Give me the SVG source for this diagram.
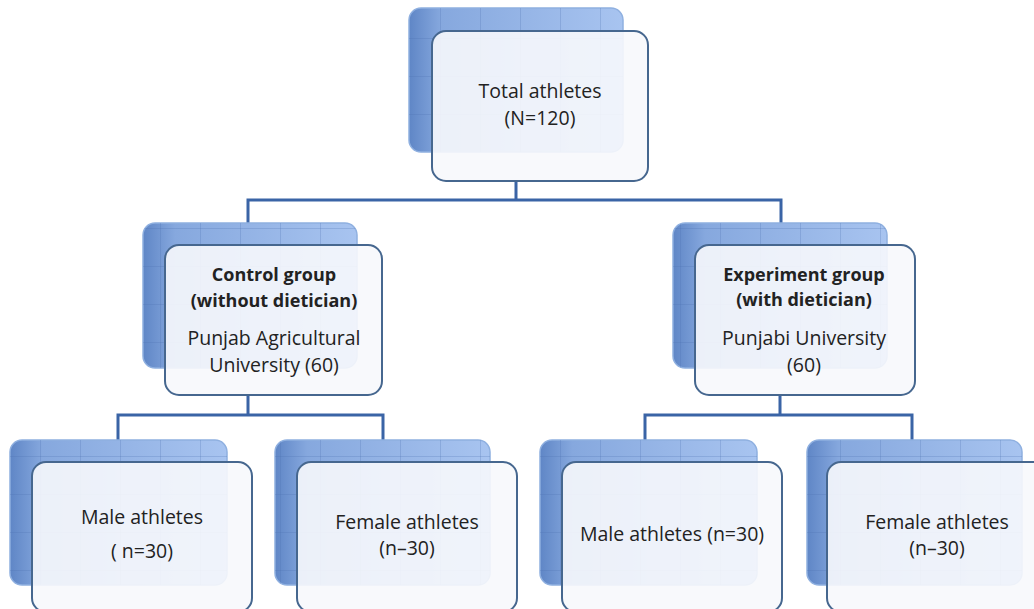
<svg xmlns="http://www.w3.org/2000/svg" width="1034" height="609" viewBox="0 0 1034 609">
<style>
.back{fill:url(#bg);stroke:#8fb0e0;stroke-width:1.5}
.grid{fill:url(#gridp)}
.front{fill:#f7f8fc;fill-opacity:0.9;stroke:#46678f;stroke-width:2}
.conn{fill:none;stroke:#3a64a6;stroke-width:3}
text{font-family:"Open Sans","Liberation Sans",sans-serif;font-size:19.5px;fill:#222;text-anchor:middle}
.b{font-weight:bold;font-size:18px}
</style>
<defs>
<linearGradient id="bg" x1="0" y1="0" x2="1" y2="0">
<stop offset="0" stop-color="#5f86c6"/>
<stop offset="0.15" stop-color="#86a8de"/>
<stop offset="1" stop-color="#a8c4f0"/>
</linearGradient>
<pattern id="gridp" width="40" height="38" patternUnits="userSpaceOnUse">
<path d="M0 0.5H40M0.5 0V38" stroke="#4a6fae" stroke-opacity="0.25" stroke-width="1" fill="none"/>
</pattern>
</defs>
<g id="connectors">
<path class="conn" d="M516 182V200M248 225V200H781V225"/>
<path class="conn" d="M248 395V415M118 440V415H383V440"/>
<path class="conn" d="M780 395V415M645 440V415H912V440"/>
</g>
<g id="total">
<rect class="back" x="409" y="8" width="214" height="144" rx="12"/>
<rect class="grid" x="409" y="8" width="214" height="144" rx="12"/>
<rect class="front" x="432" y="31" width="216" height="150" rx="14"/>
<text x="540" y="98">Total athletes</text>
<text x="540" y="125">(N=120)</text>
</g>
<g id="control">
<rect class="back" x="143" y="223" width="214" height="145" rx="12"/>
<rect class="grid" x="143" y="223" width="214" height="145" rx="12"/>
<rect class="front" x="165" y="245" width="217" height="150" rx="14"/>
<text class="b" x="274" y="281">Control group</text>
<text class="b" x="274" y="307">(without dietician)</text>
<text x="274" y="345">Punjab Agricultural</text>
<text x="274" y="372">University (60)</text>
</g>
<g id="experiment">
<rect class="back" x="673" y="223" width="214" height="145" rx="12"/>
<rect class="grid" x="673" y="223" width="214" height="145" rx="12"/>
<rect class="front" x="695" y="245" width="220" height="150" rx="14"/>
<text class="b" x="804" y="281">Experiment group</text>
<text class="b" x="804" y="306">(with dietician)</text>
<text x="804" y="345">Punjabi University</text>
<text x="804" y="372">(60)</text>
</g>
<g id="male1">
<rect class="back" x="10" y="440" width="217" height="145" rx="12"/>
<rect class="grid" x="10" y="440" width="217" height="145" rx="12"/>
<rect class="front" x="32" y="462" width="220" height="150" rx="14"/>
<text x="142" y="524">Male athletes</text>
<text x="142" y="558">( n=30)</text>
</g>
<g id="female1">
<rect class="back" x="275" y="440" width="215" height="145" rx="12"/>
<rect class="grid" x="275" y="440" width="215" height="145" rx="12"/>
<rect class="front" x="297" y="462" width="220" height="150" rx="14"/>
<text x="407" y="529">Female athletes</text>
<text x="407" y="555">(n–30)</text>
</g>
<g id="male2">
<rect class="back" x="540" y="440" width="217" height="145" rx="12"/>
<rect class="grid" x="540" y="440" width="217" height="145" rx="12"/>
<rect class="front" x="562" y="462" width="220" height="150" rx="14"/>
<text x="672" y="541">Male athletes (n=30)</text>
</g>
<g id="female2">
<rect class="back" x="807" y="440" width="215" height="145" rx="12"/>
<rect class="grid" x="807" y="440" width="215" height="145" rx="12"/>
<rect class="front" x="827" y="462" width="220" height="150" rx="14"/>
<text x="937" y="529">Female athletes</text>
<text x="937" y="555">(n–30)</text>
</g>
</svg>
